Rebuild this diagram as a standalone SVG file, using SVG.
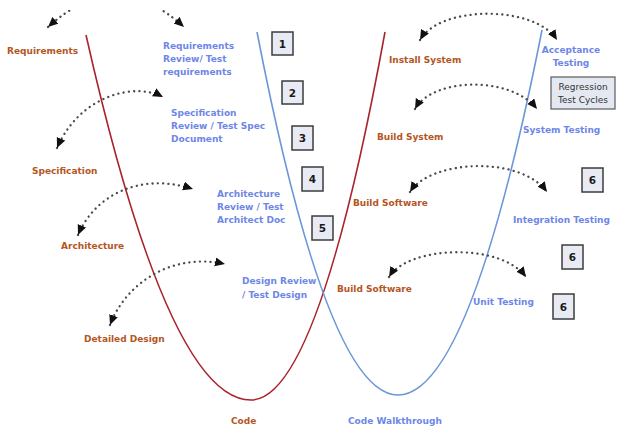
<svg xmlns="http://www.w3.org/2000/svg" width="617" height="429" viewBox="0 0 617 429">
<style>
  text { font-family: "DejaVu Sans", Verdana, sans-serif; font-size: 9px; font-weight: bold; }
  .dev { fill: #b4561f; }
  .test { fill: #6e87e6; }
  .num { font-size: 10.5px; fill: #1a1a1a; text-anchor: middle; }
  .reg { font-weight: normal; fill: #333; text-anchor: middle; }
  .box { fill: #e8ebf3; stroke: #3c3c3c; stroke-width: 1.5; }
  .regbox { fill: #e4e8f1; stroke: #5a5a5a; stroke-width: 1.2; }
  .arc { fill: none; stroke: #4a4a4a; stroke-width: 2.3; stroke-dasharray: 0.1 5.2; stroke-linecap: round; marker-start: url(#ah); marker-end: url(#ah); }
  .vred { fill: none; stroke: #a9232d; stroke-width: 1.6; }
  .vblue { fill: none; stroke: #6b97d8; stroke-width: 1.6; }
</style>
<defs>
  <marker id="ah" markerUnits="userSpaceOnUse" markerWidth="11" markerHeight="10" refX="10" refY="4.5" orient="auto-start-reverse">
    <path d="M0,0 L10,4.5 L0,9 z" fill="#111"/>
  </marker>
  <clipPath id="topclip"><rect x="0" y="10" width="617" height="419"/></clipPath>
</defs>
<rect width="617" height="429" fill="#ffffff"/>

<g id="v-curves">
  <path class="vred" d="M86,35 Q168.5,400 251,400 Q318,400 385,32"/>
  <path class="vblue" d="M257,32 Q327.5,395 398,395 Q470,395 542,30"/>
</g>

<g id="connectors">
  <path class="arc" clip-path="url(#topclip)" d="M48,27 Q116,-35 184,27"/>
  <path class="arc" d="M57,148 C80,95 135,82 163,97"/>
  <path class="arc" d="M78,235 C95,195 140,172 193,189"/>
  <path class="arc" d="M110,325 C125,285 170,252 225,264"/>
  <path class="arc" d="M420,40 C440,5 535,5 557,40"/>
  <path class="arc" d="M415,109 C432,78 510,75 537,109"/>
  <path class="arc" d="M410,192 C430,160 520,155 547,192"/>
  <path class="arc" d="M389,277 C408,246 500,242 526,277"/>
</g>

<g id="requirements"><text class="dev" x="7" y="54">Requirements</text></g>
<g id="specification"><text class="dev" x="32" y="174">Specification</text></g>
<g id="architecture"><text class="dev" x="61" y="249">Architecture</text></g>
<g id="detailed-design"><text class="dev" x="84" y="342">Detailed Design</text></g>
<g id="code"><text class="dev" x="231" y="424">Code</text></g>
<g id="code-walkthrough"><text class="test" x="348" y="424">Code Walkthrough</text></g>

<g id="req-review">
  <text class="test" x="163" y="49">Requirements</text>
  <text class="test" x="163" y="62">Review/ Test</text>
  <text class="test" x="163" y="75">requirements</text>
</g>
<g id="spec-review">
  <text class="test" x="171" y="116">Specification</text>
  <text class="test" x="171" y="129">Review / Test Spec</text>
  <text class="test" x="171" y="142">Document</text>
</g>
<g id="arch-review">
  <text class="test" x="217" y="197">Architecture</text>
  <text class="test" x="217" y="210">Review / Test</text>
  <text class="test" x="217" y="223">Architect Doc</text>
</g>
<g id="design-review">
  <text class="test" x="242" y="284">Design Review</text>
  <text class="test" x="242" y="297.5">/ Test Design</text>
</g>

<g id="install-system"><text class="dev" x="389" y="63">Install System</text></g>
<g id="build-system"><text class="dev" x="377" y="140">Build System</text></g>
<g id="build-software-1"><text class="dev" x="353" y="206">Build Software</text></g>
<g id="build-software-2"><text class="dev" x="337" y="292">Build Software</text></g>

<g id="acceptance-testing">
  <text class="test" x="571" y="53" text-anchor="middle">Acceptance</text>
  <text class="test" x="571" y="66" text-anchor="middle">Testing</text>
</g>
<g id="system-testing"><text class="test" x="523" y="133">System Testing</text></g>
<g id="integration-testing"><text class="test" x="513" y="223">Integration Testing</text></g>
<g id="unit-testing"><text class="test" x="473" y="305">Unit Testing</text></g>

<g id="regression">
  <rect class="regbox" x="551" y="77" width="64" height="32"/>
  <text class="reg" x="583" y="90">Regression</text>
  <text class="reg" x="583" y="103">Test Cycles</text>
</g>

<g id="box1"><rect class="box" x="272" y="32" width="21" height="23"/><text class="num" x="282.5" y="47.5">1</text></g>
<g id="box2"><rect class="box" x="282" y="81" width="21" height="23"/><text class="num" x="292.5" y="96.5">2</text></g>
<g id="box3"><rect class="box" x="292" y="126" width="21" height="24"/><text class="num" x="302.5" y="142">3</text></g>
<g id="box4"><rect class="box" x="302" y="167" width="21" height="24"/><text class="num" x="312.5" y="183">4</text></g>
<g id="box5"><rect class="box" x="312" y="216" width="21" height="24"/><text class="num" x="322.5" y="232">5</text></g>
<g id="box6a"><rect class="box" x="582" y="168" width="21" height="24"/><text class="num" x="592.5" y="184">6</text></g>
<g id="box6b"><rect class="box" x="562" y="245" width="21" height="24"/><text class="num" x="572.5" y="261">6</text></g>
<g id="box6c"><rect class="box" x="553" y="294" width="21" height="25"/><text class="num" x="563.5" y="310.5">6</text></g>
</svg>
